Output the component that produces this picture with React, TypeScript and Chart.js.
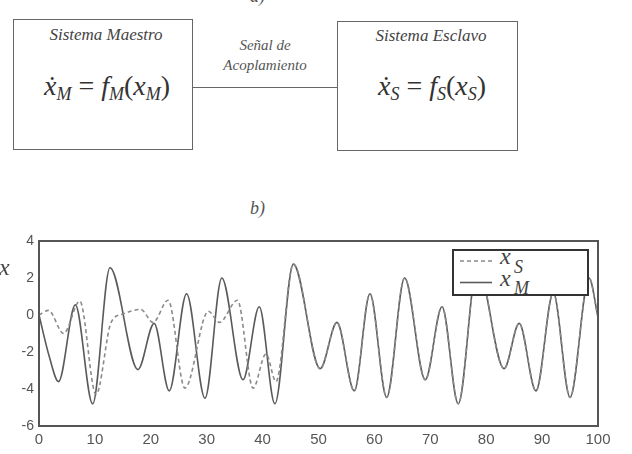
import React, { useEffect, useRef } from "react";
import { Chart, registerables } from "chart.js";

Chart.register(...registerables);

// ---- data ----
const xTickValues = [0, 10, 20, 30, 40, 50, 60, 70, 80, 90, 100];
const yTickValues = [-6, -4, -2, 0, 2, 4];

// master system x_M (solid line)
const masterT = [0, 1.8, 3.5, 6.5, 9.6, 12.7, 17.7, 20.6, 23.3, 26.4, 29.7, 32.7, 36.5, 39.4, 42.2, 45.5, 50.3, 53.3, 56.4, 59.2, 62.2, 65.4, 69.1, 72.1, 75.0, 78.4, 83.2, 85.9, 88.9, 92.0, 95.0, 98.4, 100];
const masterV = [0, -2.2, -3.6, 0.55, -4.8, 2.55, -2.95, -0.45, -4.1, 1.15, -4.5, 2.0, -3.5, 0.45, -4.8, 2.75, -2.9, -0.4, -4.1, 1.15, -4.45, 2.0, -3.5, 0.45, -4.8, 2.65, -2.9, -0.45, -4.1, 1.2, -4.45, 2.0, -0.1];

// slave system x_S (dashed line) before it synchronises with the master
const slaveT = [0, 1.7, 4.4, 7.3, 10.2, 12.9, 15.0, 18.2, 20.4, 23.1, 26.1, 30.3, 32.3, 35.5, 38.3, 40.6, 42.4];
const slaveV = [0, 0.25, -1.0, 0.75, -4.3, -0.4, 0.05, 0.3, -0.4, 0.8, -3.95, 0.2, -0.4, 0.8, -3.95, -2.1, -3.6];
const syncFrom = 45.5; // from here on x_S coincides with x_M

const masterPts = masterT.map((t, i) => ({ x: t, y: masterV[i] }));
const slavePts = [
  ...slaveT.map((t, i) => ({ x: t, y: slaveV[i] })),
  ...masterPts.filter((p) => p.x >= syncFrom),
];

const serif = "'Liberation Serif', 'Times New Roman', serif";
const sans = "'Liberation Sans', Arial, sans-serif";

const frame = {
  id: "frame",
  afterDatasetsDraw(chart: any) {
    const { ctx, chartArea } = chart;
    ctx.save();
    ctx.strokeStyle = "#555";
    ctx.lineWidth = 2;
    ctx.strokeRect(chartArea.left, chartArea.top, chartArea.right - chartArea.left, chartArea.bottom - chartArea.top);
    ctx.restore();
  },
};

function Plot() {
  const ref = useRef<HTMLCanvasElement>(null);
  useEffect(() => {
    if (!ref.current) return;
    const chart = new Chart(ref.current, {
      type: "line",
      data: {
        datasets: [
          {
            label: "x_S",
            data: slavePts,
            borderColor: "#8a8a8a",
            borderDash: [4, 3],
            borderWidth: 1.6,
            pointRadius: 0,
            cubicInterpolationMode: "monotone",
            fill: false,
          },
          {
            label: "x_M",
            data: masterPts,
            borderColor: "#5a5a5a",
            borderWidth: 1.6,
            pointRadius: 0,
            cubicInterpolationMode: "monotone",
            fill: false,
          },
        ],
      },
      options: {
        animation: false,
        responsive: false,
        events: [],
        layout: { padding: { left: 0, top: 41, right: 34, bottom: 0 } },
        plugins: { legend: { display: false }, tooltip: { enabled: false } },
        scales: {
          x: {
            type: "linear",
            min: 0,
            max: 100,
            afterBuildTicks: (s: any) => {
              s.ticks = xTickValues.map((v) => ({ value: v }));
            },
            afterFit: (s: any) => {
              s.height = 28;
            },
            ticks: { color: "#555", font: { family: sans, size: 15 }, padding: 5, maxRotation: 0, autoSkip: false },
            grid: { display: false, drawTicks: false },
            border: { display: false },
          },
          y: {
            type: "linear",
            min: -6,
            max: 4,
            afterBuildTicks: (s: any) => {
              s.ticks = yTickValues.map((v) => ({ value: v }));
            },
            afterFit: (s: any) => {
              s.width = 39;
            },
            ticks: { color: "#555", font: { family: sans, size: 14 }, padding: 5 },
            grid: { display: false, drawTicks: false },
            border: { display: false },
          },
        },
      },
      plugins: [frame],
    });
    return () => chart.destroy();
  }, []);
  return <canvas ref={ref} width={632} height={254} style={{ position: "absolute", left: 0, top: 200, width: 632, height: 254 }} />;
}

const abs = (l: number, t: number, extra: any = {}) => ({ position: "absolute" as const, left: l, top: t, ...extra });

function Sub({ children, size, shift }: { children: any; size: number; shift: number }) {
  return <span style={{ fontSize: size, position: "relative", top: shift, fontStyle: "italic" }}>{children}</span>;
}

export default function App() {
  return (
    <div style={{ position: "fixed", left: 0, top: 0, width: 632, height: 454, overflow: "hidden", background: "#fff", color: "#333" }}>
      {/* cut-off a) label */}
      <div style={abs(250, -13, { font: `italic 18px ${serif}`, lineHeight: "18px", color: "#555" })}>a)</div>

      {/* master box */}
      <div style={abs(13, 19, { width: 180, height: 131, border: "1.5px solid #666", boxSizing: "border-box" })} />
      <div style={abs(13, 26, { width: 186, textAlign: "center", font: `italic 17px ${serif}`, lineHeight: "17px", color: "#444" })}>Sistema Maestro</div>
      <div style={abs(13, 72, { width: 188, textAlign: "center", font: `28px ${serif}`, lineHeight: "28px", whiteSpace: "nowrap" })}>
        <i>ẋ</i>
        <Sub size={18} shift={5}>M</Sub> = <i>f</i>
        <Sub size={18} shift={5}>M</Sub>(<i>x</i>
        <Sub size={18} shift={5}>M</Sub>)
      </div>

      {/* coupling line */}
      <div style={abs(193, 86.5, { width: 144, height: 0, borderTop: "1.5px solid #666" })} />
      <div style={abs(205, 35, { width: 120, textAlign: "center", font: `italic 15px ${serif}`, lineHeight: "20px", color: "#555" })}>
        Señal de
        <br />
        Acoplamiento
      </div>

      {/* slave box */}
      <div style={abs(337, 21, { width: 181, height: 130, border: "1.5px solid #666", boxSizing: "border-box" })} />
      <div style={abs(337, 27, { width: 188, textAlign: "center", font: `italic 17px ${serif}`, lineHeight: "17px", color: "#444" })}>Sistema Esclavo</div>
      <div style={abs(337, 72, { width: 190, textAlign: "center", font: `28px ${serif}`, lineHeight: "28px", whiteSpace: "nowrap" })}>
        <i>ẋ</i>
        <Sub size={18} shift={5}>S</Sub> = <i>f</i>
        <Sub size={18} shift={5}>S</Sub>(<i>x</i>
        <Sub size={18} shift={5}>S</Sub>)
      </div>

      {/* b) label */}
      <div style={abs(250, 199, { font: `italic 18px ${serif}`, lineHeight: "18px", color: "#555" })}>b)</div>

      <Plot />

      {/* y-axis label */}
      <div style={abs(-1, 255, { font: `italic 24px ${serif}`, lineHeight: "24px", color: "#444" })}>x</div>

      {/* legend */}
      <div style={abs(452, 249, { width: 137, height: 47, border: "2px solid #333", boxSizing: "border-box", background: "#fff", overflow: "hidden" })}>
        <svg width={133} height={43} style={{ position: "absolute", left: 0, top: 0 }}>
          <line x1={6} y1={10} x2={38} y2={10} stroke="#8a8a8a" strokeWidth={1.6} strokeDasharray="4 3" />
          <line x1={6} y1={31.5} x2={38} y2={31.5} stroke="#5a5a5a" strokeWidth={1.6} />
        </svg>
        <span style={abs(46, -7, { font: `italic 24px ${serif}`, lineHeight: "24px", color: "#444" })}>x</span>
        <span style={abs(60, 7, { font: `italic 18px ${serif}`, lineHeight: "18px", color: "#444" })}>S</span>
        <span style={abs(46, 15, { font: `italic 24px ${serif}`, lineHeight: "24px", color: "#444" })}>x</span>
        <span style={abs(60, 28, { font: `italic 18px ${serif}`, lineHeight: "18px", color: "#444" })}>M</span>
      </div>
    </div>
  );
}
